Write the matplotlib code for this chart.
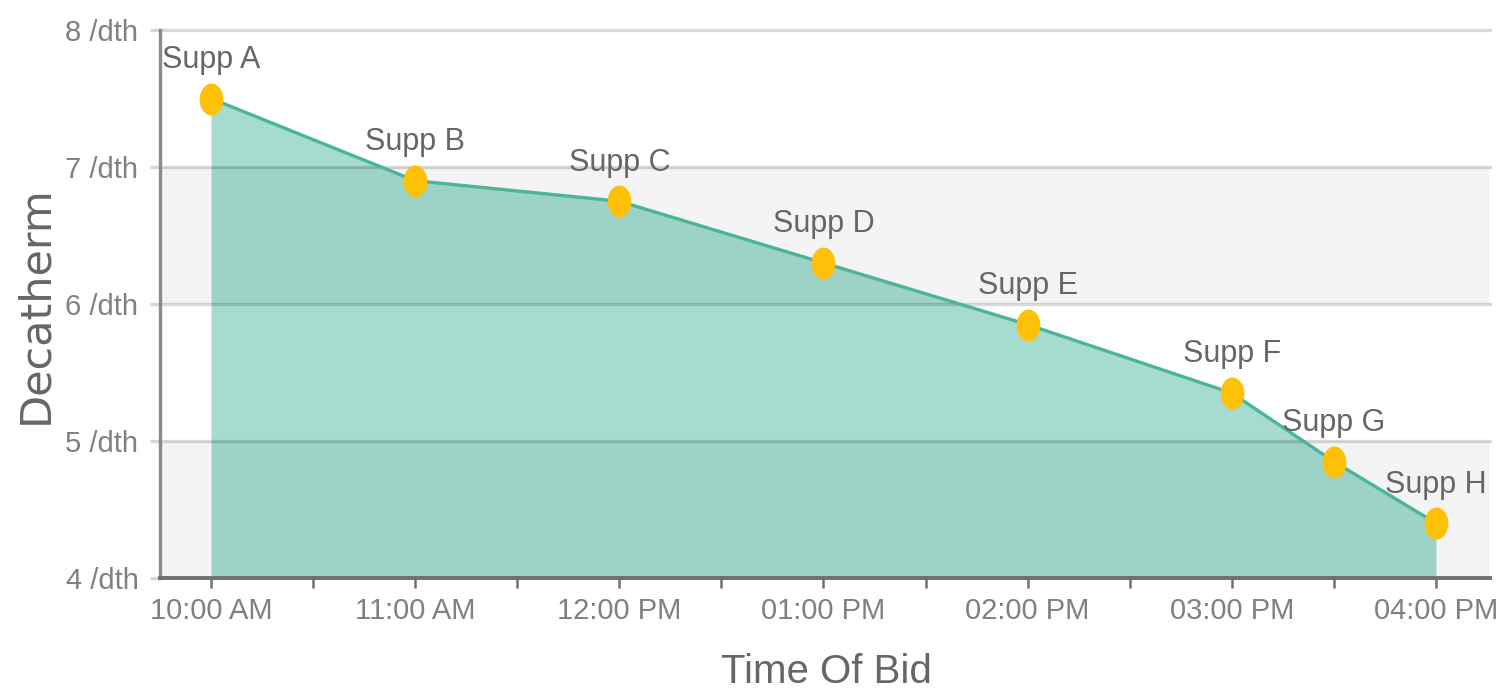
import matplotlib
matplotlib.use("Agg")
import matplotlib.pyplot as plt
import numpy as np
from matplotlib.path import Path

# ---- data ----
suppliers = ["Supp A", "Supp B", "Supp C", "Supp D", "Supp E", "Supp F", "Supp G", "Supp H"]
bid_hours = [10.0, 11.0, 12.0, 13.0, 14.0, 15.0, 15.5, 16.0]
prices = [7.5, 6.9, 6.75, 6.3, 5.85, 5.35, 4.85, 4.4]
x_tick_hours = [10, 11, 12, 13, 14, 15, 16]
x_tick_labels = ["10:00 AM", "11:00 AM", "12:00 PM", "01:00 PM", "02:00 PM", "03:00 PM", "04:00 PM"]
x_minor_hours = [10.5, 11.5, 12.5, 13.5, 14.5, 15.5]
y_ticks = [4, 5, 6, 7, 8]
y_tick_labels = ["4 /dth", "5 /dth", "6 /dth", "7 /dth", "8 /dth"]

narrow = ["Liberation Sans Narrow", "Liberation Sans", "DejaVu Sans"]

fig = plt.figure(figsize=(14.99, 6.94), dpi=100)
ax = fig.add_axes([160/1499, 1-578/694, (1490-160)/1499, (578-30)/694])
ax.set_xlim(9.75, 16.265)
ax.set_ylim(4, 8)

# area + line
ax.fill_between(bid_hours, prices, 4, color="#a5dccf", lw=0, zorder=1)

# alternating bands (translucent, over the fill)
for lo, hi in [(4, 5), (6, 7)]:
    ax.axhspan(lo, hi, color="black", alpha=0.045, lw=0, zorder=2)
# grid lines
for yv in [5, 6, 7, 8]:
    ax.axhline(yv, color="black", alpha=0.15, lw=2.4, zorder=2.5, clip_on=False)

ax.plot(bid_hours, prices, color="#4ab598", lw=2.4, zorder=3)

# ellipse marker
t = np.linspace(0, 2*np.pi, 60)
ell = Path(np.column_stack([0.74*np.cos(t), np.sin(t)]), closed=True)
ax.plot(bid_hours, prices, ls="none", marker=ell, markersize=23,
        markerfacecolor="#ffc107", markeredgewidth=0, zorder=4)

for name, xv, yv in zip(suppliers, bid_hours, prices):
    ax.annotate(name, (xv, yv), xytext=(0, 22), textcoords="offset points",
                ha="center", va="baseline", fontsize=22, color="#666666",
                family=narrow, zorder=5)

# spines
for s in ["top", "right"]:
    ax.spines[s].set_visible(False)
ax.spines["left"].set_color("#8a8a8a")
ax.spines["left"].set_linewidth(2.4)
ax.spines["bottom"].set_color("#6f6f6f")
ax.spines["bottom"].set_linewidth(2.8)
ax.spines["bottom"].set_zorder(6)

ax.set_xticks(x_tick_hours)
ax.set_xticklabels(x_tick_labels, family=narrow, fontsize=21, color="#808080")
ax.set_xticks(x_minor_hours, minor=True)
ax.tick_params(axis="x", which="both", length=7.5, width=1.8, color="#707070",
               direction="out", pad=6)

ax.set_yticks(y_ticks)
ax.set_yticklabels(y_tick_labels, family=narrow, fontsize=21, color="#808080")
ax.tick_params(axis="y", length=7.5, width=2.4, color="#d6d6d6", pad=8)

fig.text(35/1499, 1-305/694, "Decatherm", rotation=90, ha="center", va="center",
         fontsize=31, color="#666666", family=["DejaVu Sans"])
fig.text(826/1499, 1-672/694, "Time Of Bid", ha="center", va="center",
         fontsize=29, color="#666666", family=narrow)

fig.savefig("out.png", dpi=100, facecolor="white")
